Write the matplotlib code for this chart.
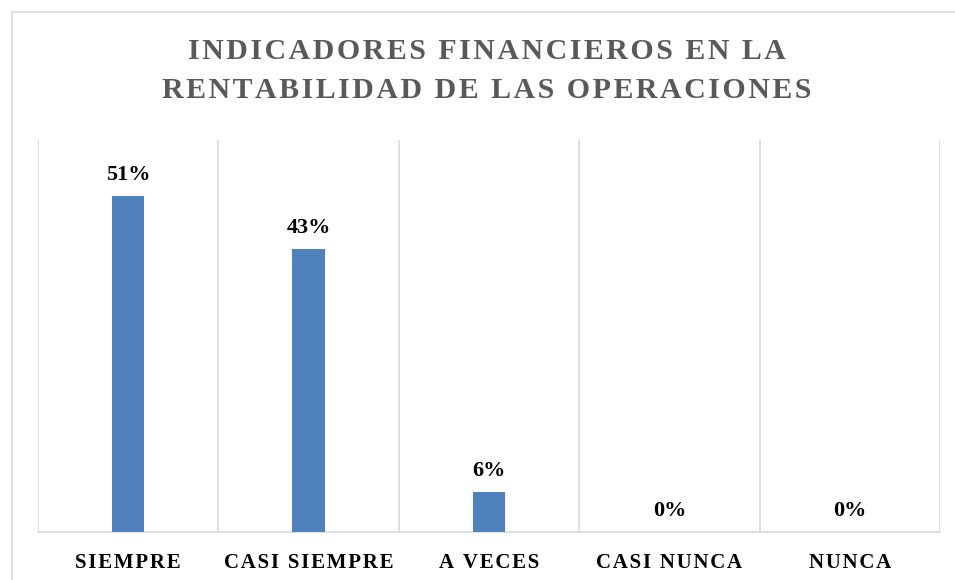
import matplotlib
matplotlib.use("Agg")
import matplotlib.pyplot as plt
from matplotlib.patches import Rectangle

categories = ["SIEMPRE", "CASI SIEMPRE", "A VECES", "CASI NUNCA", "NUNCA"]
values = [0.51, 0.43, 0.06, 0.0, 0.0]
labels = ["51%", "43%", "6%", "0%", "0%"]
title = "INDICADORES FINANCIEROS EN LA\nRENTABILIDAD DE LAS OPERACIONES"

FONT = ["Liberation Serif", "DejaVu Serif"]

def spaced(s, sp="\u200a"):
    return sp.join(list(s))

fig = plt.figure(figsize=(9.55, 5.8), dpi=100)
fig.patches.append(Rectangle((12/955, -0.1), 1.2, 1 - 12/580 + 0.1, transform=fig.transFigure,
                             fill=False, edgecolor="#D9D9D9", linewidth=1.2))
ax = fig.add_axes([38/955, 1 - 532/580, (940 - 38)/955, (532 - 140)/580])

x = range(len(categories))
ax.bar(x, values, width=0.18, color="#4F81BD", zorder=3)
ax.set_xlim(-0.5, len(categories) - 0.5)
ax.set_ylim(0, 0.595)
for b in [i - 0.5 for i in range(len(categories) + 1)]:
    ax.axvline(b, color="#D9D9D9", linewidth=1.2, zorder=1)
for i, (v, l) in enumerate(zip(values, labels)):
    ax.annotate(l, (i, v), xytext=(0, 8), textcoords="offset points", ha="center", va="bottom",
                fontsize=16, fontweight="bold", family=FONT, color="#000000")
for s in ["top", "left", "right"]:
    ax.spines[s].set_visible(False)
ax.spines["bottom"].set_color("#D9D9D9")
ax.spines["bottom"].set_linewidth(1.2)
ax.set_yticks([])
ax.set_xticks(list(x))
ax.set_xticklabels([spaced(c) for c in categories], fontsize=15, fontweight="bold", family=FONT, color="#000000")
ax.tick_params(axis="x", length=0, pad=15)

fig.text(487/955, 1 - 71/580, "\n".join(spaced(t, "\u200a") for t in title.split("\n")),
         ha="center", va="center", fontsize=21.5, fontweight="bold", family=FONT, color="#595959",
         linespacing=1.55)

fig.savefig("out.png", dpi=100)
